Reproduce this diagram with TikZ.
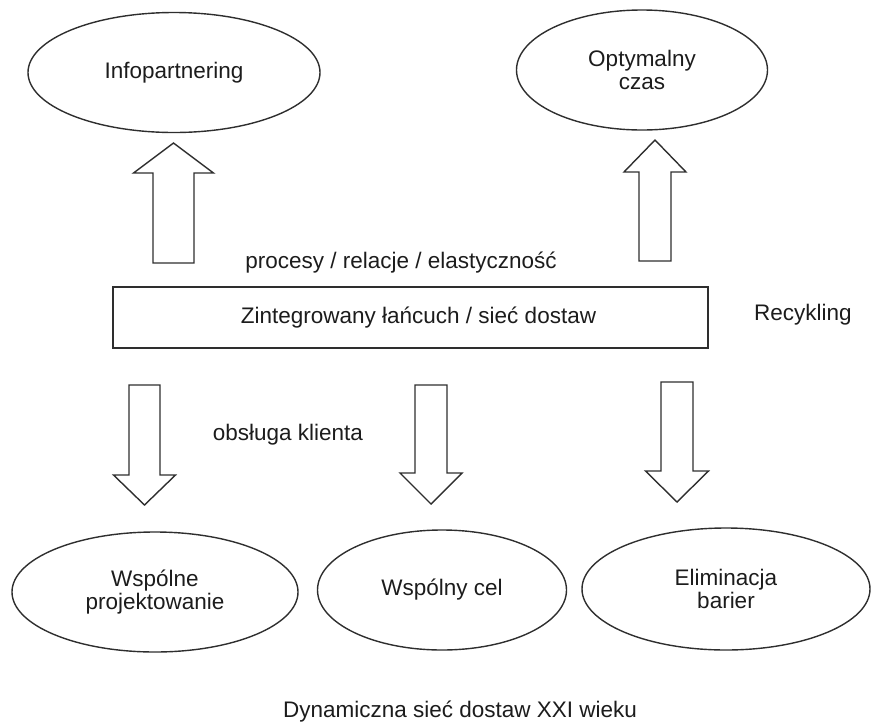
\documentclass[tikz,border=0pt]{standalone}
\usepackage{fontspec}
\setmainfont{Liberation Sans}
\usetikzlibrary{shapes.geometric,calc}
\definecolor{ink}{HTML}{1C1C1C}
\definecolor{edge}{HTML}{2E2E2E}
% vertical block arrow: from, to, shaft half-width, head half-width, head length
\newcommand\blockarrow[5]{%
  \draw[arrowline] let \p1=(#1), \p2=(#2), \n1={\y2-sign(\y2-\y1)*#5pt} in
    (\x1-#3pt,\y1) -- (\x1-#3pt,\n1) -- (\x1-#4pt,\n1) -- (\x2,\y2)
    -- (\x1+#4pt,\n1) -- (\x1+#3pt,\n1) -- (\x1+#3pt,\y1) -- cycle;}
\begin{document}
\begin{tikzpicture}[x=1pt,y=-1pt,
  every node/.style={font=\fontsize{22.5}{23.5}\selectfont, text=ink},
  goal/.style={ellipse, draw=edge, line width=1.4pt, inner sep=0pt, align=center},
  band/.style={rectangle, draw=edge, line width=1.4pt, inner sep=0pt,
    minimum width=595pt, minimum height=61pt},
  tag/.style={inner sep=0pt},
  arrowline/.style={draw=edge, line width=1.4pt, line join=miter}]
\useasboundingbox (0,0) rectangle (871,724);

% goals around the chain
\node[goal, minimum width=292pt, minimum height=120pt] (info) at (174,72.5) {\raisebox{-6pt}{Infopartnering}};
\node[goal, minimum width=251pt, minimum height=120pt] (czas) at (642,70) {Optymalny\\czas};
\node[goal, minimum width=286pt, minimum height=120pt] (proj) at (155,592) {Wspólne\\projektowanie};
\node[goal, minimum width=249pt, minimum height=120pt] (cel) at (442,590) {Wspólny cel};
\node[goal, minimum width=288pt, minimum height=122pt] (bar) at (726,589) {Eliminacja\\barier};

% central chain
\node[band] (siec) at (410.5,317.5) {\hspace*{16pt}Zintegrowany łańcuch / sieć dostaw};

% free labels
\node[tag] (proc) at (401,263) {procesy / relacje / elastyczność};
\node[tag] (recy) at (803,315) {Recykling};
\node[tag] (obs) at (288,435) {obsługa klienta};
\node[tag] (dyn) at (460,712) {Dynamiczna sieć dostaw XXI wieku};

% arrow ends
\coordinate (u1s) at (173.5,263); \coordinate (u1e) at (173.5,143);
\coordinate (u2s) at (655,261);   \coordinate (u2e) at (655,140);
\coordinate (d1s) at (144.5,385); \coordinate (d1e) at (144.5,505);
\coordinate (d2s) at (431,385);   \coordinate (d2e) at (431,504);
\coordinate (d3s) at (677,382);   \coordinate (d3e) at (677,502);

\blockarrow{u1s}{u1e}{20.5}{40}{30}
\blockarrow{u2s}{u2e}{16}{31}{32}
\blockarrow{d1s}{d1e}{15.5}{31}{30}
\blockarrow{d2s}{d2e}{16}{31}{31}
\blockarrow{d3s}{d3e}{16}{31.5}{31}
\end{tikzpicture}
\end{document}
